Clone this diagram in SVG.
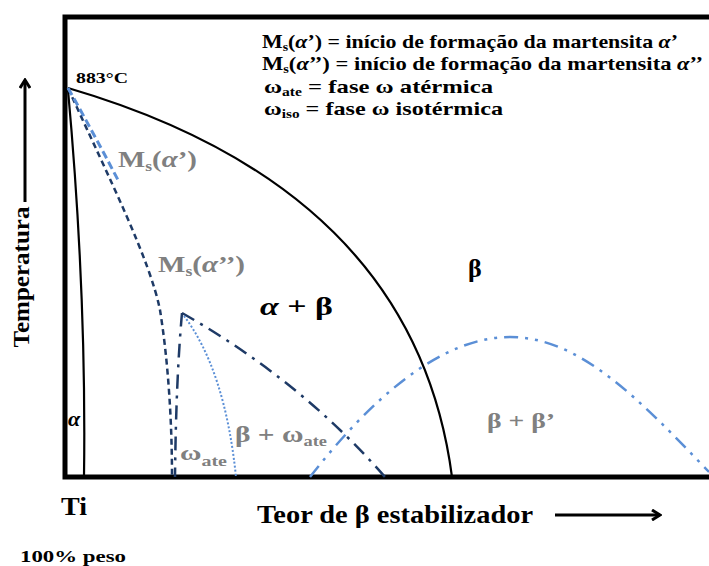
<svg xmlns="http://www.w3.org/2000/svg" width="709" height="566" viewBox="0 0 709 566">
<style>
.t{font-family:'Liberation Serif','DejaVu Serif',serif;font-weight:bold}
.lg{font-size:19px;fill:#000}
.gr{fill:#808080}
.sub{font-size:12px}
.frame{fill:none;stroke:#000;stroke-width:5}
.solid{fill:none;stroke:#000;stroke-width:2.2}
.navyd{fill:none;stroke:#1e3a66;stroke-width:2.5;stroke-dasharray:6 4}
.lbd{fill:none;stroke:#5b8fd6;stroke-width:3;stroke-dasharray:8 4}
.navydd{fill:none;stroke:#1e3a66;stroke-width:2.5;stroke-dasharray:14 7 3 7}
.lbdot{fill:none;stroke:#5b8fd6;stroke-width:2;stroke-dasharray:2 2}
.lbddd{fill:none;stroke:#5b8fd6;stroke-width:2.5;stroke-dasharray:14 7 3 7 3 7}
</style>
<defs>
<marker id="ah" markerWidth="12" markerHeight="12" refX="10" refY="6" orient="auto" markerUnits="userSpaceOnUse">
<path d="M2,1 L10,6 L2,11" fill="none" stroke="#000" stroke-width="3"/>
</marker>
</defs>
<rect width="709" height="566" fill="#fff"/>
<g id="frame">
<path class="frame" d="M709,17 H65 V477 H709"/>
</g>
<g id="connectors">
<path id="beta-transus" class="solid" d="M68,88 C280,150 425,270 452,477"/>
<path id="alpha-line" class="solid" d="M68,90 C78,200 86,330 84,477"/>
<path id="ms-alpha2" class="navyd" d="M68,88 C110,180 150,260 160,310 C168,360 172,420 172,477"/>
<path id="ms-alpha1" class="lbd" d="M68,88 Q94,134 118,180"/>
<path id="omega-iso-left" class="navydd" d="M182,313 Q176,380 175,477"/>
<path id="omega-iso-right" class="navydd" d="M182,313 Q300,380 385,477"/>
<path id="omega-ate" class="lbdot" d="M184,316 Q225,370 236,477"/>
<path id="beta-beta-prime" class="lbddd" d="M310,477 C370,400 440,337 510,337 C580,337 640,400 709,472"/>
<path id="temp-arrow" fill="none" stroke="#000" stroke-width="3" d="M25,202 V80" marker-end="url(#ah)"/>
<path id="x-arrow" fill="none" stroke="#000" stroke-width="3" d="M555,515 H660" marker-end="url(#ah)"/>
</g>
<g id="legend" font-family="'Liberation Serif','DejaVu Serif',serif" font-weight="bold">
<text class="t lg" x="262" y="48" textLength="416" lengthAdjust="spacingAndGlyphs">M<tspan class="sub" dy="3">s</tspan><tspan dy="-3">(</tspan><tspan font-style="italic">α</tspan>’) = início de formação da martensita <tspan font-style="italic">α</tspan>’</text>
<text class="t lg" x="262" y="70" textLength="441" lengthAdjust="spacingAndGlyphs">M<tspan class="sub" dy="3">s</tspan><tspan dy="-3">(</tspan><tspan font-style="italic">α</tspan>’’) = início de formação da martensita <tspan font-style="italic">α</tspan>’’</text>
<text class="t lg" x="264" y="93" textLength="229" lengthAdjust="spacingAndGlyphs">ω<tspan class="sub" dy="3">ate</tspan><tspan dy="-3"> =  fase ω atérmica</tspan></text>
<text class="t lg" x="264" y="115" textLength="239" lengthAdjust="spacingAndGlyphs">ω<tspan class="sub" dy="3">iso</tspan><tspan dy="-3"> =  fase ω isotérmica</tspan></text>
</g>
<g id="labels" font-family="'Liberation Serif','DejaVu Serif',serif" font-weight="bold">
<text class="t" x="76" y="83" font-size="15" textLength="52" lengthAdjust="spacingAndGlyphs">883°C</text>
<text class="t gr" x="118" y="167" font-size="23" textLength="79" lengthAdjust="spacingAndGlyphs">M<tspan font-size="14" dy="4">s</tspan><tspan dy="-4">(</tspan><tspan font-style="italic">α</tspan>’)</text>
<text class="t gr" x="158" y="272" font-size="23" textLength="87" lengthAdjust="spacingAndGlyphs">M<tspan font-size="14" dy="4">s</tspan><tspan dy="-4">(</tspan><tspan font-style="italic">α</tspan>’’)</text>
<text class="t" x="260" y="315" font-size="26" textLength="73" lengthAdjust="spacingAndGlyphs"><tspan font-style="italic">α</tspan> + β</text>
<text class="t" x="468" y="277" font-size="26">β</text>
<text class="t gr" x="235" y="442" font-size="24" textLength="92" lengthAdjust="spacingAndGlyphs">β + ω<tspan font-size="15" dy="4">ate</tspan></text>
<text class="t gr" x="180" y="460" font-size="22" textLength="47" lengthAdjust="spacingAndGlyphs">ω<tspan font-size="15" dy="6">ate</tspan></text>
<text class="t gr" x="487" y="428" font-size="22" textLength="68" lengthAdjust="spacingAndGlyphs">β + β’</text>
<text class="t" x="68" y="426" font-size="22" font-style="italic">α</text>
<text class="t" x="61" y="515" font-size="26" textLength="26" lengthAdjust="spacingAndGlyphs">Ti</text>
<text class="t" x="257" y="523" font-size="25" textLength="276" lengthAdjust="spacingAndGlyphs">Teor de β estabilizador</text>
<text class="t" x="20" y="562" font-size="16" textLength="106" lengthAdjust="spacingAndGlyphs">100% peso</text>
<text class="t" x="29" y="277" font-size="23" text-anchor="middle" transform="rotate(-90 29 277)" textLength="141" lengthAdjust="spacingAndGlyphs">Temperatura</text>
</g>
</svg>
